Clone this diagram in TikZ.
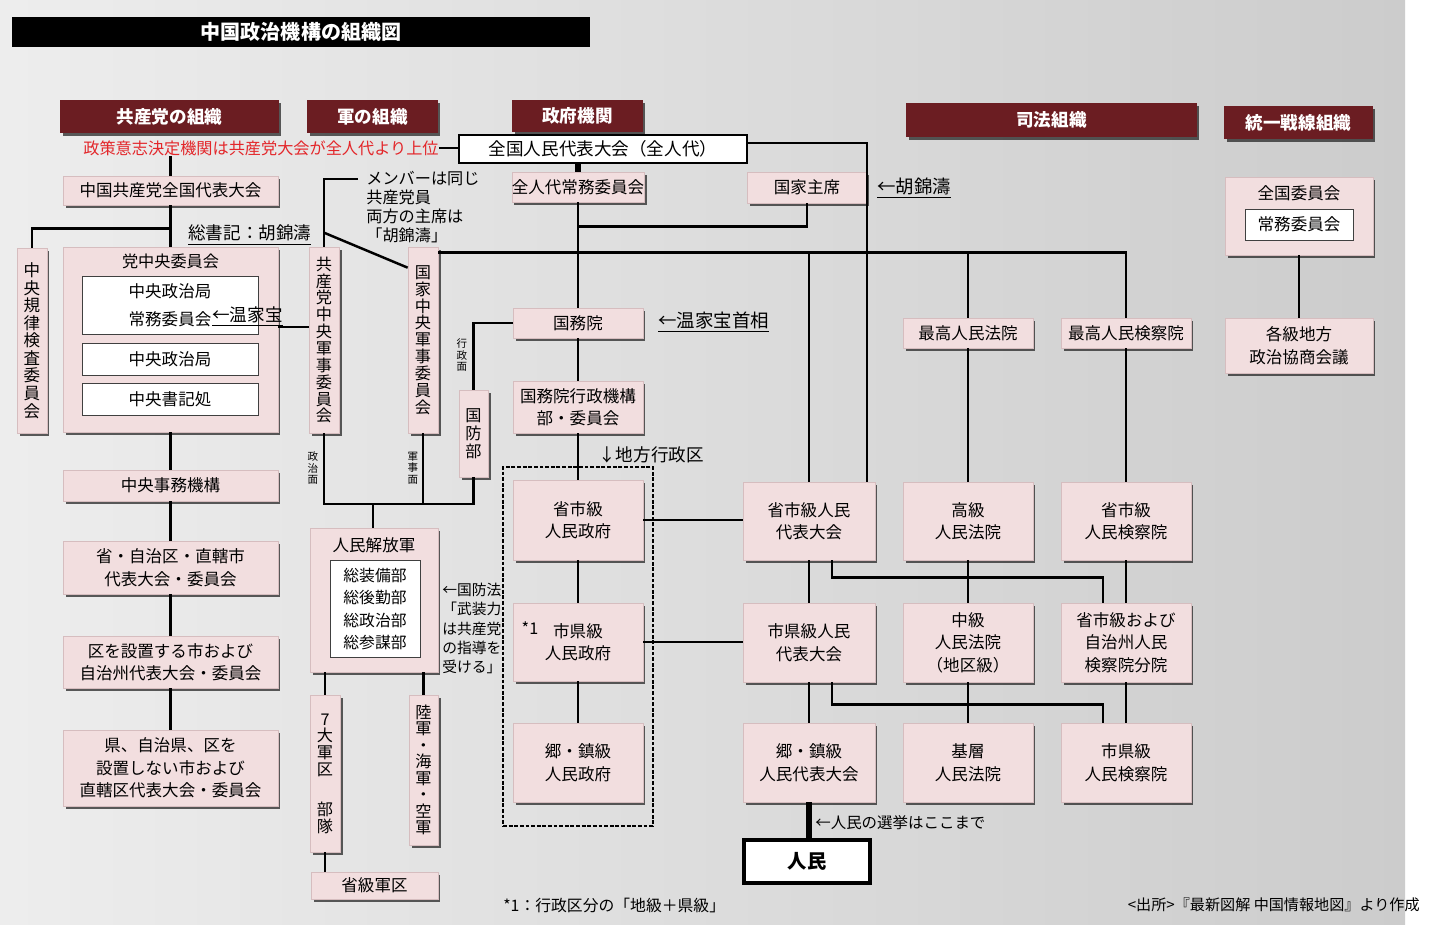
\documentclass[tikz,border=0pt]{standalone}
\usepackage{fontspec}
\setmainfont{Noto Sans CJK JP}
\usepackage{tikz}
\usetikzlibrary{shadows,calc}
\definecolor{orgpink}{HTML}{F2DEDF}
\definecolor{orgedge}{HTML}{D6BDBF}
\definecolor{orgred}{HTML}{6B1D22}
\definecolor{orgnotered}{HTML}{E3262A}
\tikzset{
  orgshadow/.style={drop shadow={shadow xshift=0.05cm,shadow yshift=-0.06cm,fill=black!85,opacity=.75}},
  orgbar/.style={fill=orgred,text=white,font=\bfseries\fontsize{10}{12}\selectfont,inner sep=0pt,orgshadow},
  orgbox/.style={fill=orgpink,draw=orgedge,thin,font=\fontsize{9.4}{12.8}\selectfont,align=center,inner sep=0pt,orgshadow},
  orgvbox/.style={orgbox,font=\fontsize{9.2}{9.6}\selectfont},
  orginner/.style={fill=white,draw=black!75,thin,font=\fontsize{9.4}{12.8}\selectfont,align=center,inner sep=0pt},
  orglink/.style={draw=black,line width=1.4pt},
  orgnote/.style={font=\fontsize{9.2}{10.8}\selectfont,inner sep=0pt},
  orgsmall/.style={font=\fontsize{6}{6.6}\selectfont,align=center,inner sep=0pt},
  orgframe/.style={draw=black,line width=1.5pt,dash pattern=on 2.2pt off 1pt}
}
\begin{document}
\begin{tikzpicture}[x=0.02cm,y=-0.02cm]
\useasboundingbox (0,0) rectangle (1434,924);
\fill[white] (0,0) rectangle (1434,924);
\shade[left color=gray!14,right color=gray!40] (0,0) rectangle (1405,924);
% title and headers
\node[fill=black,text=white,font=\bfseries\fontsize{11.4}{13}\selectfont,minimum width=11.56cm,minimum height=0.6cm,inner sep=0pt] (title) at (301,32) {中国政治機構の組織図};
\node[orgbar,minimum width=4.38cm,minimum height=0.66cm] (hparty) at (169.5,116.5) {共産党の組織};
\node[orgbar,minimum width=2.62cm,minimum height=0.66cm] (harmy) at (372.5,116.5) {軍の組織};
\node[orgbar,minimum width=2.62cm,minimum height=0.64cm] (hgov) at (577.5,116) {政府機関};
\node[orgbar,minimum width=5.82cm,minimum height=0.68cm] (hjud) at (1051.5,120) {司法組織};
\node[orgbar,minimum width=2.98cm,minimum height=0.66cm] (hufw) at (1298.5,122.5) {統一戦線組織};
\node[orgnote,text=orgnotered,anchor=west] (redn) at (83,148) {政策意志決定機関は共産党大会が全人代より上位};
\node[fill=white,draw=black,line width=1.5pt,font=\fontsize{10}{12}\selectfont,minimum width=5.76cm,minimum height=0.56cm,inner sep=0pt] (npc) at (603,149) {全国人民代表大会（全人代）};
% party
\node[orgbox,minimum width=4.3cm,minimum height=0.58cm] (pcong) at (170.5,190.5) {中国共産党全国代表大会};
\node[orgbox,minimum width=4.3cm,minimum height=3.7cm] (pcc) at (170.5,339.5) {};
\node[orgnote] (pcct) at (170.5,261) {党中央委員会};
\node[orginner,minimum width=3.52cm,minimum height=1.16cm] (psc) at (170,305) {中央政治局\\[3pt]常務委員会};
\node[orginner,minimum width=3.52cm,minimum height=0.64cm] (ppb) at (170,359) {中央政治局};
\node[orginner,minimum width=3.52cm,minimum height=0.64cm] (psec) at (170,399) {中央書記処};
\node[orgvbox,font=\fontsize{9.4}{10}\selectfont,minimum width=0.6cm,minimum height=3.7cm] (pdisc) at (32,340.5) {中\\央\\規\\律\\検\\査\\委\\員\\会};
\node[orgnote,font=\fontsize{10}{12}\selectfont,anchor=west] (gensec) at (188,235) {\underline{総書記：胡錦濤}};
\node[orgnote,font=\fontsize{10}{12}\selectfont,anchor=west] (wen) at (212,317) {\underline{←温家宝}};
\node[orgbox,minimum width=4.3cm,minimum height=0.62cm] (pcentral) at (170.5,485.5) {中央事務機構};
\node[orgbox,minimum width=4.3cm,minimum height=1.06cm] (pprov) at (170.5,567.5) {省・自治区・直轄市\\代表大会・委員会};
\node[orgbox,minimum width=4.3cm,minimum height=1.04cm] (pcity) at (170.5,662) {区を設置する市および\\自治州代表大会・委員会};
\node[orgbox,minimum width=4.3cm,minimum height=1.52cm] (pcounty) at (170.5,768) {県、自治県、区を\\設置しない市および\\直轄区代表大会・委員会};
% army
\node[orgvbox,minimum width=0.6cm,minimum height=3.72cm] (pcmc) at (324,340) {共\\産\\党\\中\\央\\軍\\事\\委\\員\\会};
\node[orgvbox,minimum width=0.6cm,minimum height=3.72cm] (scmc) at (423,340) {国\\家\\中\\央\\軍\\事\\委\\員\\会};
\node[orgvbox,font=\fontsize{9.2}{10.4}\selectfont,minimum width=0.58cm,minimum height=1.74cm] (mod) at (473.5,433.5) {国\\防\\部};
\node[orgnote,align=left,font=\fontsize{9.2}{10.8}\selectfont,anchor=north west] (mtext) at (366,171) {メンバーは同じ\\共産党員\\両方の主席は\\「胡錦濤」};
\node[orgsmall] (ladm) at (462,355) {行\\政\\面};
\node[orgsmall] (lpol) at (313,468) {政\\治\\面};
\node[orgsmall] (lmil) at (413,468) {軍\\事\\面};
\node[orgbox,minimum width=2.56cm,minimum height=2.88cm] (pla) at (374,600) {};
\node[orgnote,font=\fontsize{9.4}{11}\selectfont] (plat) at (374,545) {人民解放軍};
\node[orginner,font=\fontsize{9}{12.6}\selectfont,minimum width=1.8cm,minimum height=1.94cm] (plai) at (375,609) {総装備部\\総後勤部\\総政治部\\総参謀部};
\node[orgnote,align=left,font=\fontsize{8.4}{10.9}\selectfont,anchor=north west] (deflaw) at (442,583) {←国防法\\「武装力\\は共産党\\の指導を\\受ける」};
\node[orgvbox,minimum width=0.6cm,minimum height=3.14cm] (mr7) at (325,773.5) {7\\大\\軍\\区\\[13pt]部\\隊};
\node[orgvbox,font=\fontsize{9.2}{9.4}\selectfont,minimum width=0.58cm,minimum height=3cm] (mlsa) at (423.5,770) {陸\\軍\\・\\海\\軍\\・\\空\\軍};
\node[orgbox,minimum width=2.54cm,minimum height=0.54cm] (pmd) at (374.5,885.5) {省級軍区};
% government
\node[orgbox,minimum width=2.6cm,minimum height=0.6cm] (npcsc) at (578,187) {全人代常務委員会};
\node[orgbox,minimum width=2.4cm,minimum height=0.62cm] (pres) at (807,187.5) {国家主席};
\node[orgnote,font=\fontsize{10.5}{12}\selectfont,anchor=west] (hu) at (877,188) {\underline{←胡錦濤}};
\node[orgbox,minimum width=2.6cm,minimum height=0.6cm] (state) at (578,323) {国務院};
\node[orgnote,font=\fontsize{10.5}{12}\selectfont,anchor=west] (premier) at (658,322) {\underline{←温家宝首相}};
\node[orgbox,minimum width=2.6cm,minimum height=1.04cm] (stadm) at (578,407) {国務院行政機構\\部・委員会};
\node[orgnote,font=\fontsize{10}{12}\selectfont,anchor=west] (local) at (598,455) {↓地方行政区};
\node[orgbox,minimum width=2.6cm,minimum height=1.6cm] (gprov) at (578,520) {省市級\\人民政府};
\node[orgbox,minimum width=2.6cm,minimum height=1.56cm] (gcity) at (578,642) {市県級\\人民政府};
\node[orgnote] (star) at (530,628) {*1};
\node[orgbox,minimum width=2.6cm,minimum height=1.58cm] (gtown) at (578,762.5) {郷・鎮級\\人民政府};
\node[orgframe,minimum width=3cm,minimum height=7.18cm] (lgov) at (578,646.5) {};
% judiciary
\node[orgbox,minimum width=2.6cm,minimum height=0.6cm] (scourt) at (968,333) {最高人民法院};
\node[orgbox,minimum width=2.6cm,minimum height=0.6cm] (sprocu) at (1126,333) {最高人民検察院};
\node[orgbox,minimum width=2.64cm,minimum height=1.56cm] (sjrd) at (809,521) {省市級人民\\代表大会};
\node[orgbox,minimum width=2.6cm,minimum height=1.56cm] (hcourt) at (968,521) {高級\\人民法院};
\node[orgbox,minimum width=2.6cm,minimum height=1.56cm] (hprocu) at (1126,521) {省市級\\人民検察院};
\node[orgbox,minimum width=2.64cm,minimum height=1.58cm] (cjrd) at (809,642.5) {市県級人民\\代表大会};
\node[orgbox,minimum width=2.6cm,minimum height=1.58cm] (icourt) at (968,642.5) {中級\\人民法院\\（地区級）};
\node[orgbox,minimum width=2.6cm,minimum height=1.58cm] (iprocu) at (1126,642.5) {省市級および\\自治州人民\\検察院分院};
\node[orgbox,minimum width=2.64cm,minimum height=1.58cm] (tjrd) at (809,762.5) {郷・鎮級\\人民代表大会};
\node[orgbox,minimum width=2.6cm,minimum height=1.58cm] (bcourt) at (968,762.5) {基層\\人民法院};
\node[orgbox,minimum width=2.6cm,minimum height=1.58cm] (bprocu) at (1126,762.5) {市県級\\人民検察院};
\node[fill=white,draw=black,line width=1.8pt,font=\bfseries\fontsize{11}{13}\selectfont,minimum width=2.52cm,minimum height=0.86cm,inner sep=0pt] (people) at (807,861.5) {人民};
\node[orgnote,font=\fontsize{8.8}{10}\selectfont,anchor=west] (vote) at (815,823) {←人民の選挙はここまで};
% united front
\node[orgbox,minimum width=2.96cm,minimum height=1.56cm] (ufnc) at (1299,216) {};
\node[orgnote,font=\fontsize{9.4}{11}\selectfont] (ufnct) at (1299,193) {全国委員会};
\node[orginner,minimum width=2.16cm,minimum height=0.62cm] (ufsc) at (1299,224.5) {常務委員会};
\node[orgbox,minimum width=2.96cm,minimum height=1.1cm] (ufloc) at (1299,345.5) {各級地方\\政治協商会議};
% notes at bottom
\node[orgnote,font=\fontsize{9}{10}\selectfont,anchor=west] (fn) at (503,905) {*1：行政区分の「地級＋県級」};
\node[orgnote,font=\fontsize{8.6}{10}\selectfont,anchor=east] (src) at (1420,905) {<出所>『最新図解 中国情報地図』より作成};
% links: party
\draw[orglink] (redn.south -| pcong.north) -- (pcong.north);
\draw[orglink] (pcong.south) -- (pcc.north);
\draw[orglink] ([yshift=-0.46cm]pcong.south) -| (pdisc.north);
\draw[orglink] (pcc.south) -- (pcentral.north);
\draw[orglink] (pcentral.south) -- (pprov.north);
\draw[orglink] (pprov.south) -- (pcity.north);
\draw[orglink] (pcity.south) -- (pcounty.north);
\coordinate (wenj) at ([yshift=0.25cm]pcc.east);
\draw[orglink] (wenj) -- (wenj -| pcmc.west);
% links: army
\coordinate (mnote) at (358,179);
\draw[orglink] (mnote) -| (pcmc.north);
\draw[orglink] ([yshift=0.28cm]pcmc.north) -- ([yshift=-0.42cm]scmc.north west);
\coordinate (armyj) at (373,504);
\draw[orglink] (pcmc.south) |- (armyj) -| (mod.south);
\draw[orglink] (scmc.south) -- (scmc.south |- armyj);
\draw[orglink] (armyj) -- (armyj |- pla.north);
\draw[orglink] (state.west) -| (mod.north);
\draw[orglink] (mr7.north |- pla.south) -- (mr7.north);
\draw[orglink] (mlsa.north |- pla.south) -- (mlsa.north);
\draw[orglink] (mr7.south) -- (mr7.south |- pmd.north);
% links: government
\draw[orglink] (redn.east) -- (redn.east -| npc.west);
\draw[line width=3pt] (npcsc.north |- npc.south) -- (npcsc.north);
\draw[orglink] (npcsc.south) -- (state.north);
\draw[orglink] (pres.south) |- ([yshift=-0.48cm]npcsc.south);
\draw[orglink] (state.south) -- (stadm.north);
\draw[orglink] (stadm.south) -- (gprov.north);
\draw[orglink] (gprov.south) -- (gcity.north);
\draw[orglink] (gcity.south) -- (gtown.north);
\draw[orglink] (gprov.east) -- (gprov.east -| sjrd.west);
\draw[orglink] (gcity.east) -- (gcity.east -| cjrd.west);
\draw[orglink] ([yshift=0.12cm]npc.east) -| ([xshift=1.16cm]sjrd.north);
\coordinate (judj) at ([yshift=-0.12cm]scmc.north east);
\draw[orglink] (judj) -| (sprocu.north);
\draw[orglink] (scourt.north) -- (scourt.north |- judj);
\draw[orglink] (sjrd.north) -- (sjrd.north |- judj);
% links: judiciary
\draw[orglink] (scourt.south) -- (hcourt.north);
\draw[orglink] (sprocu.south) -- (hprocu.north);
\draw[orglink] (sjrd.south) -- (cjrd.north);
\draw[orglink] (hcourt.south) -- (icourt.north);
\draw[orglink] (hprocu.south) -- (iprocu.north);
\draw[orglink] (cjrd.south) -- (tjrd.north);
\draw[orglink] (icourt.south) -- (bcourt.north);
\draw[orglink] (iprocu.south) -- (bprocu.north);
\draw[orglink] ([xshift=0.46cm]sjrd.south) |- ([xshift=-0.46cm,yshift=0.5cm]iprocu.north) -- ([xshift=-0.46cm]iprocu.north);
\draw[orglink] ([xshift=0.46cm]cjrd.south) |- ([xshift=-0.46cm,yshift=0.36cm]bprocu.north) -- ([xshift=-0.46cm]bprocu.north);
\draw[line width=3pt] (tjrd.south) -- (tjrd.south |- people.north);
% links: united front
\draw[orglink] (ufnc.south) -- (ufloc.north);
\end{tikzpicture}
\end{document}
